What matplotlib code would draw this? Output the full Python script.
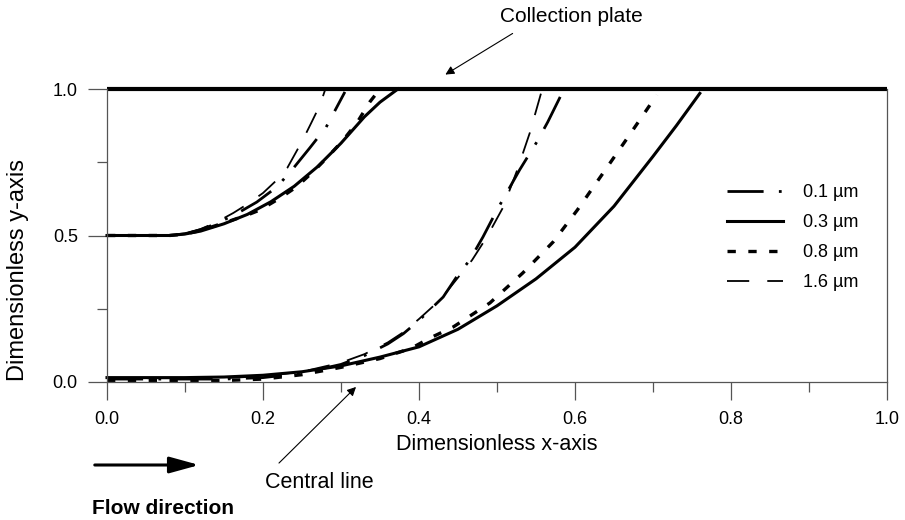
import numpy as np
import matplotlib
matplotlib.use('Agg')
import matplotlib.pyplot as plt
from matplotlib.ticker import MultipleLocator

plt.rcParams['font.family'] = ['Liberation Sans', 'DejaVu Sans']
plt.rcParams['lines.scale_dashes'] = False

# ---------------------------------------------------
# Trajectory data
# ---------------------------------------------------
sizes = ['0.1 µm', '0.3 µm', '0.8 µm', '1.6 µm']

# particles released at y = 0.5
up_x_01 = [0, 0.08, 0.10, 0.12, 0.14, 0.168, 0.192, 0.218, 0.239, 0.260, 0.281, 0.296, 0.305]
up_y_01 = [0.5, 0.5, 0.506, 0.52, 0.54, 0.577, 0.614, 0.666, 0.730, 0.799, 0.870, 0.945, 0.99]
up_x_03 = [0, 0.08, 0.10, 0.12, 0.15, 0.18, 0.21, 0.24, 0.27, 0.30, 0.33, 0.35, 0.373]
up_y_03 = [0.5, 0.5, 0.505, 0.515, 0.54, 0.572, 0.615, 0.668, 0.735, 0.815, 0.905, 0.955, 1.0]
up_x_08 = [0, 0.08, 0.10, 0.12, 0.15, 0.18, 0.196, 0.222, 0.243, 0.264, 0.283, 0.303, 0.321, 0.337, 0.347]
up_y_08 = [0.5, 0.5, 0.505, 0.517, 0.543, 0.570, 0.587, 0.628, 0.666, 0.717, 0.768, 0.826, 0.887, 0.956, 0.99]
up_x_16 = [0, 0.08, 0.10, 0.12, 0.14, 0.162, 0.18, 0.200, 0.216, 0.231, 0.251, 0.262, 0.273, 0.280]
up_y_16 = [0.5, 0.5, 0.506, 0.522, 0.545, 0.577, 0.607, 0.645, 0.685, 0.730, 0.826, 0.885, 0.945, 1.0]

# particles released on the central line
lo_x_01 = [0, 0.15, 0.20, 0.25, 0.30, 0.33, 0.36, 0.38, 0.40, 0.431, 0.448, 0.465, 0.482, 0.500, 0.529, 0.551, 0.565, 0.581]
lo_y_01 = [0.01, 0.01, 0.015, 0.03, 0.06, 0.09, 0.13, 0.165, 0.21, 0.290, 0.358, 0.416, 0.495, 0.587, 0.724, 0.819, 0.887, 0.973]
lo_x_03 = [0, 0.10, 0.15, 0.20, 0.25, 0.30, 0.35, 0.40, 0.45, 0.50, 0.55, 0.60, 0.65, 0.70, 0.73, 0.76]
lo_y_03 = [0.015, 0.015, 0.017, 0.023, 0.035, 0.055, 0.085, 0.12, 0.18, 0.26, 0.352, 0.46, 0.60, 0.77, 0.875, 0.985]
lo_x_08 = [0, 0.15, 0.20, 0.25, 0.30, 0.35, 0.39, 0.414, 0.444, 0.491, 0.533, 0.572, 0.603, 0.636, 0.668, 0.705]
lo_y_08 = [0.005, 0.005, 0.01, 0.025, 0.05, 0.08, 0.115, 0.150, 0.188, 0.270, 0.372, 0.478, 0.587, 0.713, 0.836, 0.980]
lo_x_16 = [0, 0.15, 0.20, 0.25, 0.30, 0.33, 0.36, 0.38, 0.40, 0.427, 0.468, 0.487, 0.508, 0.526, 0.542, 0.558]
lo_y_16 = [0.013, 0.013, 0.02, 0.035, 0.066, 0.095, 0.135, 0.17, 0.215, 0.280, 0.416, 0.495, 0.597, 0.724, 0.850, 1.0]

x_ticks = [0.0, 0.2, 0.4, 0.6, 0.8, 1.0]
y_ticks = [0.0, 0.5, 1.0]

# line styles for each particle size
styles = [
    dict(color='k', lw=2.0, linestyle=(0, (26, 11, 2, 11))),
    dict(color='k', lw=2.2, linestyle='-'),
    dict(color='k', lw=2.4, linestyle=(0, (6, 9))),
    dict(color='k', lw=1.3, linestyle=(0, (16, 13))),
]

upper = [(up_x_01, up_y_01), (up_x_03, up_y_03), (up_x_08, up_y_08), (up_x_16, up_y_16)]
lower = [(lo_x_01, lo_y_01), (lo_x_03, lo_y_03), (lo_x_08, lo_y_08), (lo_x_16, lo_y_16)]

# ---------------------------------------------------
# Figure
# ---------------------------------------------------
W, H = 905, 520
fig = plt.figure(figsize=(W / 100, H / 100), dpi=100)
ax = fig.add_axes([107 / W, 1 - 382 / H, 780 / W, 293 / H])

for lab, st, (ux, uy), (lx, ly) in zip(sizes, styles, upper, lower):
    ax.plot(ux, uy, label=lab, clip_on=False, **st)
    ax.plot(lx, ly, clip_on=False, **st)

# collection plate
ax.plot([0, 1], [1, 1], color='k', lw=3, clip_on=False, solid_capstyle='butt')

ax.set_xlim(0, 1)
ax.set_ylim(0, 1)
ax.spines['top'].set_visible(False)
for s in ['left', 'bottom', 'right']:
    ax.spines[s].set_color('#555555')
    ax.spines[s].set_linewidth(0.9)

ax.set_xticks(x_ticks)
ax.set_xticklabels([f'{v:.1f}' for v in x_ticks])
ax.set_yticks(y_ticks)
ax.set_yticklabels([f'{v:.1f}' for v in y_ticks])
ax.xaxis.set_minor_locator(MultipleLocator(0.1))
ax.yaxis.set_minor_locator(MultipleLocator(0.25))
ax.tick_params(axis='x', which='major', direction='out', length=13, width=0.9,
               color='#555555', labelsize=13, pad=8)
ax.tick_params(axis='x', which='minor', direction='out', length=7, width=0.9, color='#555555')
ax.tick_params(axis='y', which='major', direction='out', length=14, width=0.9,
               color='#555555', labelsize=13, pad=7)
ax.tick_params(axis='y', which='minor', direction='out', length=7, width=0.9, color='#555555')

leg = ax.legend(loc='upper left', bbox_to_anchor=(0.795, 0.675), frameon=False,
                fontsize=13, handlelength=3.1, handletextpad=1.1, labelspacing=0.72,
                borderpad=0, borderaxespad=0)

# axis labels
fig.text(497 / W, 1 - 444 / H, 'Dimensionless x-axis', fontsize=15.5,
         ha='center', va='center')
fig.text(18 / W, 1 - 270 / H, 'Dimensionless y-axis', fontsize=17,
         ha='center', va='center', rotation=90)

# annotations
fig.text(500 / W, 1 - 17 / H, 'Collection plate', fontsize=15, ha='left', va='center')
ax.annotate('', xy=(443 / W, 1 - 76 / H), xycoords='figure fraction',
            xytext=(515 / W, 1 - 32 / H), textcoords='figure fraction',
            arrowprops=dict(arrowstyle='-|>', color='k', lw=0.8, mutation_scale=13))

fig.text(265 / W, 1 - 482 / H, 'Central line', fontsize=15.5, ha='left', va='center')
ax.annotate('', xy=(358 / W, 1 - 385 / H), xycoords='figure fraction',
            xytext=(277 / W, 1 - 465 / H), textcoords='figure fraction',
            arrowprops=dict(arrowstyle='-|>', color='k', lw=0.8, mutation_scale=13))

ax.annotate('', xy=(202 / W, 1 - 465 / H), xycoords='figure fraction',
            xytext=(92 / W, 1 - 465 / H), textcoords='figure fraction',
            arrowprops=dict(arrowstyle='-|>,head_length=1.2,head_width=0.33',
                            color='k', lw=2.2, mutation_scale=15))
fig.text(92 / W, 1 - 508 / H, 'Flow direction', fontsize=15, fontweight='bold',
         ha='left', va='center')

fig.savefig('out.png', dpi=100)
